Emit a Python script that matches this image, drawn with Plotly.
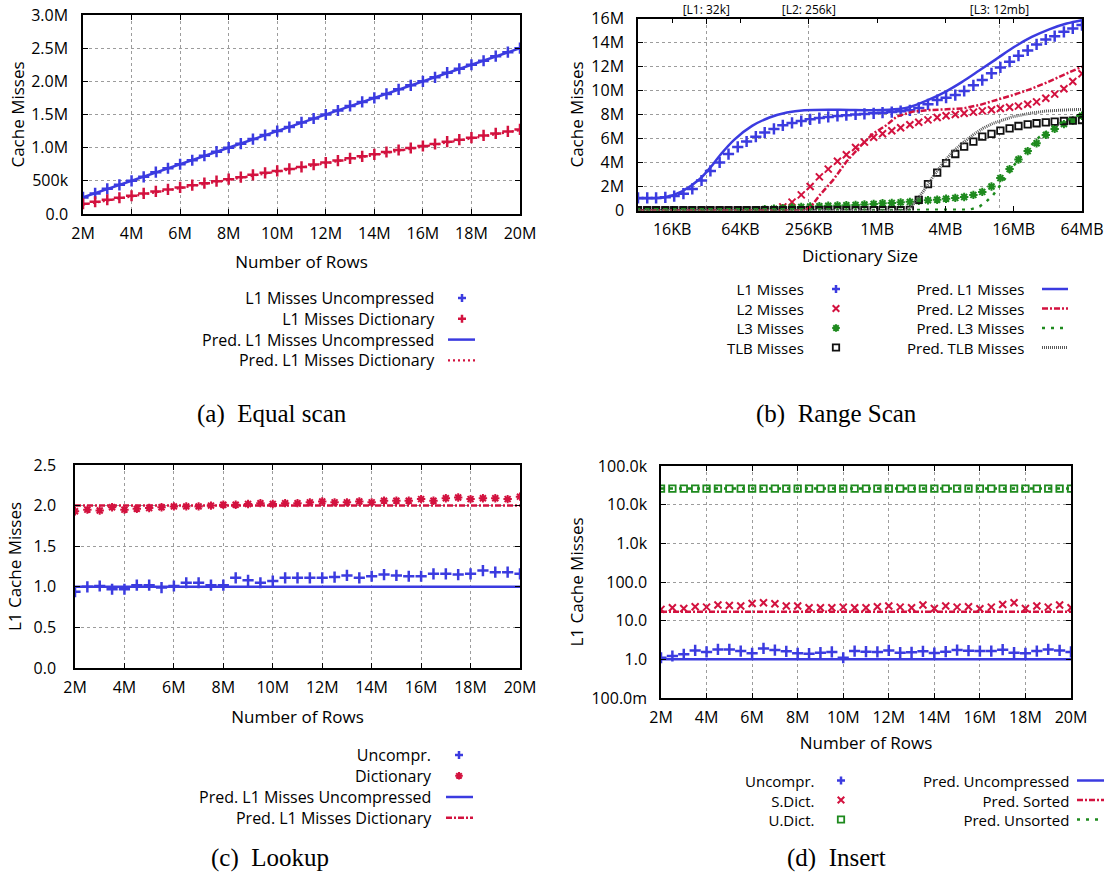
import math
import plotly.graph_objects as go

W, H = 1108, 874
FONT = "Open Sans"
SERIF = "Liberation Serif"
BLUE = "#3b3be0"
RED = "#d3123f"
GREEN = "#1e8a1e"
BLACK = "#111111"
GRAY = "#5a5a5a"
GRIDC = "#9c9c9c"

# ---------------- data ----------------
rows_m = [2.0, 2.5, 3.0, 3.5, 4.0, 4.5, 5.0, 5.5, 6.0, 6.5, 7.0, 7.5, 8.0, 8.5, 9.0, 9.5,
          10.0, 10.5, 11.0, 11.5, 12.0, 12.5, 13.0, 13.5, 14.0, 14.5, 15.0, 15.5, 16.0,
          16.5, 17.0, 17.5, 18.0, 18.5, 19.0, 19.5, 20.0]
row_ticks = [2, 4, 6, 8, 10, 12, 14, 16, 18, 20]
row_ticktext = ["2M", "4M", "6M", "8M", "10M", "12M", "14M", "16M", "18M", "20M"]

# (a) equal scan, millions of misses
eq_unc = [0.25, 0.31, 0.38, 0.44, 0.5, 0.56, 0.63, 0.69, 0.75, 0.81, 0.88, 0.94, 1.0, 1.06,
          1.13, 1.19, 1.25, 1.31, 1.38, 1.44, 1.5, 1.56, 1.63, 1.69, 1.75, 1.81, 1.88, 1.94,
          2.0, 2.06, 2.13, 2.19, 2.25, 2.31, 2.38, 2.44, 2.5]
eq_dict = [0.155, 0.185, 0.215, 0.245, 0.275, 0.31, 0.34, 0.37, 0.40, 0.435, 0.465, 0.495,
           0.525, 0.555, 0.59, 0.62, 0.65, 0.68, 0.71, 0.745, 0.775, 0.805, 0.84, 0.87, 0.90,
           0.935, 0.965, 0.995, 1.025, 1.055, 1.09, 1.12, 1.15, 1.185, 1.215, 1.245, 1.275]
eq_pred_x = [2.0, 20.0]
eq_pred_unc = [0.25, 2.5]
eq_pred_dict = [0.14, 1.265]
eq_yticks = [0, 0.5, 1.0, 1.5, 2.0, 2.5, 3.0]
eq_yticktext = ["0.0", "500k", "1.0M", "1.5M", "2.0M", "2.5M", "3.0M"]

# (b) range scan: dictionary size as log2(bytes), misses in millions
rs_log2 = [13.00, 13.27, 13.53, 13.80, 14.06, 14.33, 14.59, 14.86, 15.12, 15.39, 15.65, 15.92,
           16.18, 16.45, 16.71, 16.98, 17.24, 17.51, 17.78, 18.04, 18.31, 18.57, 18.84, 19.10,
           19.37, 19.63, 19.90, 20.16, 20.43, 20.69, 20.96, 21.22, 21.49, 21.76, 22.02, 22.29,
           22.55, 22.82, 23.08, 23.35, 23.61, 23.88, 24.14, 24.41, 24.67, 24.94, 25.20, 25.47,
           25.73, 26.00]
rs_l1 = [1.05, 1.05, 1.05, 1.1, 1.2, 1.4, 1.8, 2.5, 3.3, 4.0, 4.7, 5.3, 5.75, 6.15, 6.5, 6.8,
         7.1, 7.3, 7.45, 7.6, 7.7, 7.8, 7.88, 7.94, 8.0, 8.05, 8.1, 8.15, 8.2, 8.28, 8.35, 8.55,
         8.85, 9.2, 9.4, 9.62, 9.96, 10.43, 10.87, 11.43, 11.92, 12.4, 12.9, 13.34, 13.84,
         14.25, 14.53, 14.89, 15.17, 15.45]
rs_l2 = [0.02, 0.02, 0.02, 0.02, 0.02, 0.02, 0.02, 0.02, 0.02, 0.02, 0.02, 0.02, 0.02, 0.02,
         0.02, 0.05, 0.3, 0.7, 1.3, 2.0, 2.8, 3.45, 4.1, 4.65, 5.25, 5.7, 6.1, 6.4, 6.65, 6.9,
         7.15, 7.35, 7.55, 7.75, 7.9, 8.0, 8.1, 8.2, 8.3, 8.4, 8.5, 8.6, 8.7, 8.85, 9.05, 9.35,
         9.7, 10.15, 10.75, 11.4]
rs_l3 = [0.02, 0.02, 0.02, 0.02, 0.02, 0.02, 0.02, 0.02, 0.02, 0.02, 0.02, 0.02, 0.02, 0.02,
         0.1, 0.15, 0.2, 0.25, 0.3, 0.33, 0.36, 0.4, 0.42, 0.44, 0.46, 0.5, 0.55, 0.6, 0.63,
         0.68, 0.72, 0.8, 0.85, 0.9, 0.98, 1.05, 1.12, 1.3, 1.55, 2.0, 2.7, 3.45, 4.25, 4.95,
         5.6, 6.3, 6.8, 7.2, 7.5, 7.9]
rs_tlb = [0.02, 0.02, 0.02, 0.02, 0.02, 0.02, 0.02, 0.02, 0.02, 0.02, 0.02, 0.02, 0.02, 0.02,
          0.02, 0.02, 0.02, 0.02, 0.02, 0.02, 0.02, 0.02, 0.02, 0.02, 0.02, 0.02, 0.02, 0.02,
          0.02, 0.02, 0.05, 0.89, 2.2, 3.16, 3.94, 4.71, 5.32, 5.74, 6.16, 6.38, 6.66, 6.85,
          7.04, 7.18, 7.27, 7.35, 7.4, 7.46, 7.49, 7.54]
pred_l1_log2 = [13.0, 13.78, 14.29, 14.8, 15.11, 15.42, 15.83, 16.34, 16.85, 17.36, 17.87,
                18.89, 19.92, 20.63, 20.94, 21.45, 21.97, 22.48, 22.99, 23.5, 24.01, 24.53,
                25.04, 25.55, 26.0]
pred_l1 = [1.03, 1.1, 1.6, 2.6, 3.55, 4.67, 5.93, 7.05, 7.75, 8.17, 8.36, 8.4, 8.36, 8.45,
           8.6, 9.15, 9.85, 10.7, 11.66, 12.64, 13.62, 14.46, 15.1, 15.58, 15.86]
pred_l2_log2 = [13.0, 17.9, 18.1, 18.32, 18.71, 19.1, 19.49, 19.88, 20.27, 20.57, 21.05,
                21.54, 22.03, 22.52, 23.0, 23.49, 23.98, 24.47, 24.96, 25.45, 26.0]
pred_l2 = [0.0, 0.0, 0.45, 1.28, 2.53, 4.06, 5.3, 6.4, 7.1, 7.82, 8.24, 8.37, 8.43, 8.51,
           8.79, 9.2, 9.62, 10.09, 10.65, 11.29, 11.98]
pred_l3_log2 = [13.0, 22.5, 22.71, 23.0, 23.2, 23.4, 23.59, 23.79, 23.98, 24.18, 24.37, 24.57,
                24.76, 24.96, 25.15, 25.35, 25.54, 25.74, 26.0]
pred_l3 = [0.0, 0.0, 0.06, 0.33, 0.75, 1.3, 2.0, 2.83, 3.66, 4.35, 5.05, 5.6, 6.16, 6.57,
           6.99, 7.27, 7.54, 7.77, 8.01]
pred_tlb_log2 = [13.0, 20.9, 21.05, 21.35, 21.64, 21.93, 22.22, 22.52, 22.81, 23.1, 23.4,
                 23.69, 23.98, 24.47, 24.96, 25.45, 26.0]
pred_tlb = [0.0, 0.0, 0.47, 1.58, 2.83, 3.94, 4.91, 5.66, 6.3, 6.85, 7.27, 7.54, 7.82, 8.1,
            8.29, 8.37, 8.43]
size_ticks_log2 = [14, 16, 18, 20, 22, 24, 26]
size_ticktext = ["16KB", "64KB", "256KB", "1MB", "4MB", "16MB", "64MB"]
cache_log2 = [15, 18, math.log2(12 * 2 ** 20)]
cache_text = ["[L1: 32k]", "[L2: 256k]", "[L3: 12mb]"]
rs_yticks = [0, 2, 4, 6, 8, 10, 12, 14, 16]
rs_yticktext = ["0", "2M", "4M", "6M", "8M", "10M", "12M", "14M", "16M"]

# (c) lookup
lk_unc = [0.94, 1.0, 1.01, 0.97, 0.97, 1.02, 1.02, 0.99, 1.01, 1.05, 1.05, 1.02, 1.02, 1.11,
          1.08, 1.05, 1.07, 1.11, 1.11, 1.11, 1.11, 1.12, 1.14, 1.11, 1.13, 1.15, 1.14, 1.13,
          1.13, 1.16, 1.16, 1.15, 1.16, 1.2, 1.18, 1.18, 1.16]
lk_dict = [1.93, 1.95, 1.94, 1.98, 1.95, 1.96, 1.97, 1.98, 1.99, 1.99, 1.99, 2.0, 2.01, 2.01,
           2.02, 2.03, 2.02, 2.03, 2.03, 2.04, 2.05, 2.04, 2.04, 2.05, 2.04, 2.06, 2.06, 2.06,
           2.08, 2.06, 2.09, 2.1, 2.08, 2.09, 2.09, 2.08, 2.11]
lk_pred_x = [2.0, 20.0]
lk_pred_unc = [1.0, 1.0]
lk_pred_dict = [2.0, 2.0]

# (d) insert
in_unc = [1.1, 1.22, 1.35, 1.7, 1.55, 1.8, 1.8, 1.64, 1.43, 1.92, 1.74, 1.61, 1.43, 1.4, 1.49,
          1.55, 1.1, 1.64, 1.58, 1.55, 1.7, 1.49, 1.52, 1.61, 1.46, 1.58, 1.74, 1.67, 1.64,
          1.64, 1.78, 1.49, 1.43, 1.64, 1.8, 1.7, 1.55]
in_sdict = [19.6, 21.6, 20.7, 22.9, 22.4, 25.3, 24.7, 23.9, 27.9, 29.1, 27.3, 23.9, 23.9,
            21.6, 21.6, 21.6, 22.4, 21.6, 21.6, 22.9, 23.9, 22.4, 21.6, 25.3, 20.7, 23.9,
            22.4, 22.9, 20.3, 22.4, 26.3, 29.1, 20.7, 23.9, 22.4, 25.3, 21.6]
in_udict = [26000, 26000, 26000, 26000, 26000, 26000, 26000, 26000, 26000, 26000, 26000,
            26000, 26000, 26000, 26000, 26000, 26000, 26000, 26000, 26000, 26000, 26000,
            26000, 26000, 26000, 26000, 26000, 26000, 26000, 26000, 26000, 26000, 26000,
            26000, 26000, 26000, 26000]
in_pred_x = [2.0, 20.0]
in_pred_unc = [1.0, 1.0]
in_pred_sorted = [17.0, 17.0]
in_pred_unsorted = [26000, 26000]
in_yticks = [0.1, 1, 10, 100, 1000, 10000, 100000]
in_yticktext = ["100.0m", "1.0", "10.0", "100.0", "1.0k", "10.0k", "100.0k"]

# ---------------- styles ----------------
MK = {
    "plus": dict(symbol="cross-thin", size=8, line=dict(width=2.5)),
    "x": dict(symbol="x-thin", size=7, line=dict(width=2.0)),
    "star": dict(symbol="asterisk", size=7, line=dict(width=2.0)),
    "square": dict(symbol="square-open", size=6.5, line=dict(width=1.8)),
}
LN = {
    "solid": dict(dash="solid", width=2.5),
    "dot": dict(dash="2px,3px", width=2.2),
    "dashdot": dict(dash="6px,2px,2px,2px", width=2.5),
    "sparse": dict(dash="3px,6px", width=2.5),
    "dense": dict(dash="1px,1px", width=3.0),
}

# plot boxes in pixels: x0, y0, x1, y1
BOX = {
    "a": (83, 15, 520, 214),
    "b": (638, 18.5, 1082, 210.5),
    "c": (75, 465, 520, 668),
    "d": (661, 466, 1071, 698),
}


def dom(box):
    x0, y0, x1, y1 = box
    return [x0 / W, x1 / W], [1 - y1 / H, 1 - y0 / H]


def P(x, y):
    return x / W, 1 - y / H


fig = go.Figure()


def mk_trace(x, y, kind, color, xa, ya):
    m = dict(MK[kind])
    m["line"] = dict(m["line"], color=color)
    m["color"] = color
    fig.add_trace(go.Scatter(x=x, y=y, mode="markers", marker=m, xaxis=xa, yaxis=ya,
                             showlegend=False, hoverinfo="skip"))


def ln_trace(x, y, kind, color, xa, ya, shape="linear"):
    l = dict(LN[kind])
    l["color"] = color
    l["shape"] = shape
    fig.add_trace(go.Scatter(x=x, y=y, mode="lines", line=l, xaxis=xa, yaxis=ya,
                             showlegend=False, hoverinfo="skip"))


# (a)
mk_trace(rows_m, eq_unc, "plus", BLUE, "x", "y")
mk_trace(rows_m, eq_dict, "plus", RED, "x", "y")
ln_trace(eq_pred_x, eq_pred_unc, "solid", BLUE, "x", "y")
ln_trace(eq_pred_x, eq_pred_dict, "dot", RED, "x", "y")

# (b)
bx = [2 ** e for e in rs_log2]
mk_trace(bx, rs_l1, "plus", BLUE, "x2", "y2")
mk_trace(bx, rs_l2, "x", RED, "x2", "y2")
mk_trace(bx, rs_l3, "star", GREEN, "x2", "y2")
mk_trace(bx, rs_tlb, "square", BLACK, "x2", "y2")
ln_trace([2 ** e for e in pred_l1_log2], pred_l1, "solid", BLUE, "x2", "y2", "spline")
ln_trace([2 ** e for e in pred_l2_log2], pred_l2, "dashdot", RED, "x2", "y2")
ln_trace([2 ** e for e in pred_l3_log2], pred_l3, "sparse", GREEN, "x2", "y2")
ln_trace([2 ** e for e in pred_tlb_log2], pred_tlb, "dense", GRAY, "x2", "y2")
# empty trace so that the top (cache size) axis is drawn
fig.add_trace(go.Scatter(x=[], y=[], xaxis="x5", yaxis="y2", showlegend=False,
                         hoverinfo="skip"))

# (c)
mk_trace(rows_m, lk_unc, "plus", BLUE, "x3", "y3")
mk_trace(rows_m, lk_dict, "star", RED, "x3", "y3")
ln_trace(lk_pred_x, lk_pred_unc, "solid", BLUE, "x3", "y3")
ln_trace(lk_pred_x, lk_pred_dict, "dashdot", RED, "x3", "y3")

# (d)
mk_trace(rows_m, in_unc, "plus", BLUE, "x4", "y4")
mk_trace(rows_m, in_sdict, "x", RED, "x4", "y4")
mk_trace(rows_m, in_udict, "square", GREEN, "x4", "y4")
ln_trace(in_pred_x, in_pred_unc, "solid", BLUE, "x4", "y4")
ln_trace(in_pred_x, in_pred_sorted, "dashdot", RED, "x4", "y4")
ln_trace(in_pred_x, in_pred_unsorted, "sparse", GREEN, "x4", "y4")

TF = dict(family=FONT, size=16, color="black")
TT = dict(family=FONT, size=17, color="black")


def axis(domain, **kw):
    d = dict(domain=domain, showline=True, linecolor="black", linewidth=1.5, mirror="ticks",
             ticks="inside", ticklen=5, tickwidth=1, tickcolor="black", showgrid=True,
             gridcolor=GRIDC, griddash="dot", gridwidth=1, zeroline=False, tickfont=TF,
             automargin=False, ticklabeloverflow="allow")
    d.update(kw)
    return d


xa, ya = dom(BOX["a"])
xb, yb = dom(BOX["b"])
xc, yc = dom(BOX["c"])
xd, yd = dom(BOX["d"])
LOGR = [13 * math.log10(2), 26 * math.log10(2)]

fig.update_layout(
    width=W, height=H, margin=dict(l=0, r=0, t=0, b=0, autoexpand=False),
    paper_bgcolor="white", plot_bgcolor="white", showlegend=False,
    font=dict(family=FONT, size=16, color="black"),
    xaxis=axis(xa, anchor="y", range=[2, 20], tickvals=row_ticks, ticktext=row_ticktext,
               ticklabelstandoff=4,
               title=dict(text="Number of Rows", font=TT, standoff=13)),
    yaxis=axis(ya, anchor="x", range=[0, 3.0], tickvals=eq_yticks, ticktext=eq_yticktext,
               ticklabelstandoff=10,
               title=dict(text="Cache Misses", font=TT, standoff=2)),
    xaxis2=axis(xb, anchor="y2", type="log", range=LOGR,
                tickvals=[2 ** e for e in size_ticks_log2], ticktext=size_ticktext,
                showgrid=False, ticklabelstandoff=4,
                title=dict(text="Dictionary Size", font=TT, standoff=11)),
    yaxis2=axis(yb, anchor="x2", range=[0, 16], tickvals=rs_yticks, ticktext=rs_yticktext,
                ticklabelstandoff=9,
                title=dict(text="Cache Misses", font=TT, standoff=3)),
    xaxis5=dict(overlaying="x2", anchor="y2", side="top", type="log", range=LOGR,
                tickvals=[2 ** e for e in cache_log2], ticktext=cache_text,
                ticks="inside", ticklen=5, tickcolor="black", showline=False,
                showgrid=True, gridcolor=GRIDC, griddash="dot", gridwidth=1,
                zeroline=False, tickfont=dict(family=FONT, size=12, color="black"),
                ticklabelstandoff=1, automargin=False, ticklabeloverflow="allow"),
    xaxis3=axis(xc, anchor="y3", range=[2, 20], tickvals=row_ticks, ticktext=row_ticktext,
                ticklabelstandoff=4,
                title=dict(text="Number of Rows", font=TT, standoff=14)),
    yaxis3=axis(yc, anchor="x3", range=[0, 2.5], dtick=0.5, tickformat=".1f",
                ticklabelstandoff=14,
                title=dict(text="L1 Cache Misses", font=TT, standoff=8)),
    xaxis4=axis(xd, anchor="y4", range=[2, 20], tickvals=row_ticks, ticktext=row_ticktext,
                ticklabelstandoff=4,
                title=dict(text="Number of Rows", font=TT, standoff=10)),
    yaxis4=axis(yd, anchor="x4", type="log", range=[-1, 5], tickvals=in_yticks,
                ticktext=in_yticktext, ticklabelstandoff=9,
                title=dict(text="L1 Cache Misses", font=TT, standoff=3)),
)

# ---------------- gnuplot-style keys (text right, sample on the right) ----------------
shapes = []
annotations = []


def seg_path(segs):
    parts = []
    for (x0, y0), (x1, y1) in segs:
        X0, Y0 = P(x0, y0)
        X1, Y1 = P(x1, y1)
        parts.append(f"M{X0:.5f},{Y0:.5f} L{X1:.5f},{Y1:.5f}")
    return " ".join(parts)


def marker_sample(kind, cx, cy, color):
    if kind == "plus":
        r = 4.0
        path = seg_path([((cx - r, cy), (cx + r, cy)), ((cx, cy - r), (cx, cy + r))])
        w = 2.5
    elif kind == "x":
        r = 3.3
        path = seg_path([((cx - r, cy - r), (cx + r, cy + r)), ((cx - r, cy + r), (cx + r, cy - r))])
        w = 2.0
    elif kind == "star":
        r, q = 3.8, 2.7
        path = seg_path([((cx - r, cy), (cx + r, cy)), ((cx, cy - r), (cx, cy + r)),
                         ((cx - q, cy - q), (cx + q, cy + q)), ((cx - q, cy + q), (cx + q, cy - q))])
        w = 2.0
    else:
        r = 3.2
        pts = [P(cx - r, cy - r), P(cx + r, cy - r), P(cx + r, cy + r), P(cx - r, cy + r)]
        path = "M" + " L".join(f"{a:.5f},{b:.5f}" for a, b in pts) + " Z"
        w = 1.8
    shapes.append(dict(type="path", xref="paper", yref="paper", path=path,
                       line=dict(color=color, width=w), layer="above"))


def line_sample(kind, x0, x1, cy, color):
    X0, Y = P(x0, cy)
    X1, _ = P(x1, cy)
    st = LN[kind]
    shapes.append(dict(type="line", xref="paper", yref="paper", x0=X0, x1=X1, y0=Y, y1=Y,
                       line=dict(color=color, width=st["width"], dash=st["dash"]),
                       layer="above"))


def key(entries, text_right, first_y, fsize, sample_x=None, line_span=None):
    """One right-aligned text block; markers or line samples to the right of each row."""
    n = len(entries)
    step = 1.3 * fsize
    X, Y = P(text_right, first_y + (n - 1) * step / 2)
    annotations.append(dict(text="<br>".join(e[0] for e in entries), x=X, y=Y,
                            xref="paper", yref="paper", xanchor="right", yanchor="middle",
                            align="right", showarrow=False,
                            font=dict(family=FONT, size=fsize, color="black")))
    for i, (label, typ, kind, color) in enumerate(entries):
        cy = first_y + i * step
        if typ == "m":
            marker_sample(kind, sample_x, cy, color)
        else:
            line_sample(kind, line_span[0], line_span[1], cy, color)


key([("L1 Misses Uncompressed", "m", "plus", BLUE),
     ("L1 Misses Dictionary", "m", "plus", RED),
     ("Pred. L1 Misses Uncompressed", "l", "solid", BLUE),
     ("Pred. L1 Misses Dictionary", "l", "dot", RED)],
    437, 298, 16, sample_x=462, line_span=(448, 475))

key([("L1 Misses", "m", "plus", BLUE), ("L2 Misses", "m", "x", RED),
     ("L3 Misses", "m", "star", GREEN), ("TLB Misses", "m", "square", BLACK)],
    806, 289, 15, sample_x=836)
key([("Pred. L1 Misses", "l", "solid", BLUE), ("Pred. L2 Misses", "l", "dashdot", RED),
     ("Pred. L3 Misses", "l", "sparse", GREEN), ("Pred. TLB Misses", "l", "dense", GRAY)],
    1026, 289, 15, line_span=(1042, 1068))

key([("Uncompr.", "m", "plus", BLUE), ("Dictionary", "m", "star", RED)],
    434, 755, 16, sample_x=459)
key([("Pred. L1 Misses Uncompressed", "l", "solid", BLUE),
     ("Pred. L1 Misses Dictionary", "l", "dashdot", RED)],
    434, 797, 16, line_span=(446, 473))

key([("Uncompr.", "m", "plus", BLUE), ("S.Dict.", "m", "x", RED),
     ("U.Dict.", "m", "square", GREEN)], 816, 780.5, 15, sample_x=841)
key([("Pred. Uncompressed", "l", "solid", BLUE), ("Pred. Sorted", "l", "dashdot", RED),
     ("Pred. Unsorted", "l", "sparse", GREEN)], 1071, 780.5, 15, line_span=(1077, 1104))

# captions
for text, cx, cy in [("(a)\u2002Equal scan", 272, 414), ("(b)\u2002Range Scan", 836, 414),
                     ("(c)\u2002Lookup", 270, 858), ("(d)\u2002Insert", 836, 858)]:
    X, Y = P(cx, cy)
    annotations.append(dict(text=text, x=X, y=Y, xref="paper", yref="paper",
                            xanchor="center", yanchor="middle", showarrow=False,
                            font=dict(family=SERIF, size=25, color="black")))

fig.update_layout(shapes=shapes, annotations=annotations)
fig.write_html("out.html")
